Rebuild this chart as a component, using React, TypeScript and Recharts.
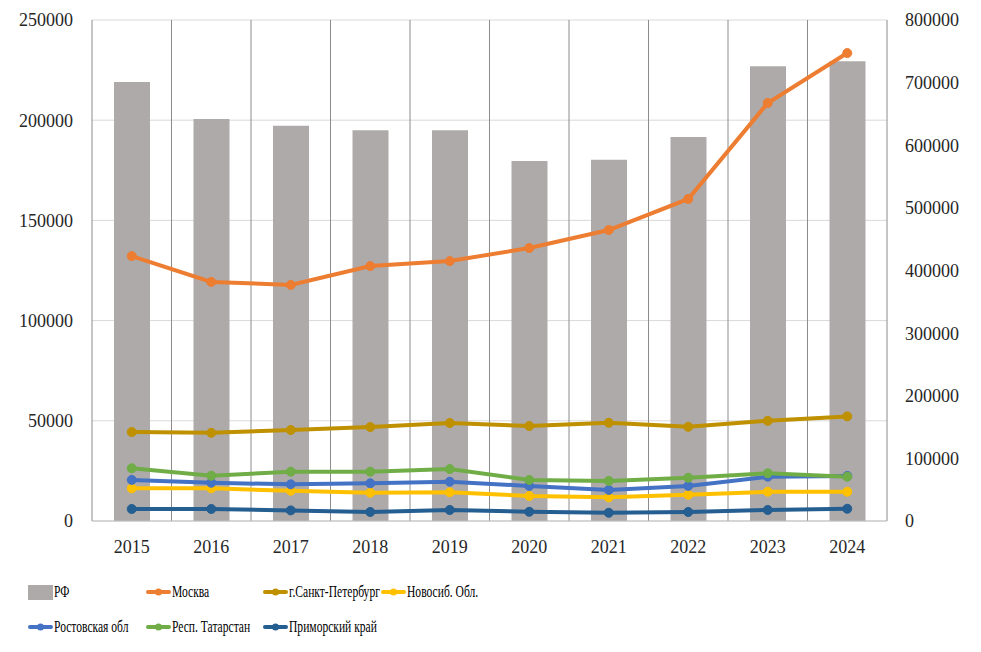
import {
  Bar,
  CartesianGrid,
  ComposedChart,
  Line,
  XAxis,
  YAxis,
} from 'recharts';

const years = ['2015', '2016', '2017', '2018', '2019', '2020', '2021', '2022', '2023', '2024'];

const rf = [701000, 642000, 631000, 624000, 624000, 575000, 577000, 613000, 726000, 734000];
const moscow = [132200, 119300, 117800, 127200, 129700, 136200, 145200, 160700, 208600, 233500];
const spb = [44400, 44000, 45400, 46900, 48900, 47400, 49000, 47000, 50000, 52200];
const novosib = [16300, 16300, 15100, 14100, 14300, 12500, 11800, 13100, 14600, 14600];
const rostov = [20500, 19100, 18300, 18800, 19600, 17500, 15500, 17500, 22100, 22500];
const tatarstan = [26300, 22600, 24600, 24600, 25900, 20500, 20000, 21600, 23800, 22100];
const primorsky = [6000, 6000, 5300, 4500, 5500, 4600, 4100, 4500, 5500, 6100];

const leftTicks = [0, 50000, 100000, 150000, 200000, 250000];
const rightTicks = [0, 100000, 200000, 300000, 400000, 500000, 600000, 700000, 800000];

const series = [
  { key: 'moscow', name: 'Москва', color: '#ed7d31' },
  { key: 'spb', name: 'г.Санкт-Петербург', color: '#bf9000' },
  { key: 'novosib', name: 'Новосиб. Обл.', color: '#ffc000' },
  { key: 'rostov', name: 'Ростовская обл', color: '#4472c4' },
  { key: 'tatarstan', name: 'Респ. Татарстан', color: '#70ad47' },
  { key: 'primorsky', name: 'Приморский край', color: '#255e91' },
];

const data = years.map((y, i) => ({
  year: y,
  rf: rf[i],
  moscow: moscow[i],
  spb: spb[i],
  novosib: novosib[i],
  rostov: rostov[i],
  tatarstan: tatarstan[i],
  primorsky: primorsky[i],
}));

const font = "'Liberation Serif', 'Liberation Sans', Arial, sans-serif";
const tickStyle = { fontSize: 18, fill: '#262626', fontFamily: font };

function LineIcon({ color }: { color: string }) {
  return (
    <svg width={25} height={14} style={{ display: 'block', flexShrink: 0 }}>
      <line x1={2} y1={7} x2={23} y2={7} stroke={color} strokeWidth={4} strokeLinecap="round" />
      <circle cx={12.5} cy={7} r={3.5} fill={color} />
    </svg>
  );
}

function ChartLegend() {
  const items = [{ key: 'rf', name: 'РФ', color: '#aeaaaa' }, ...series];
  return (
    <div style={{ fontFamily: font, fontSize: 17, color: '#000' }}>
      {items.map((it, i) => (
        <div
          key={it.key}
          style={{
            position: 'absolute',
            left: 28 + (i % 4) * 117.5,
            top: i < 4 ? 581 : 616,
            display: 'flex',
            alignItems: 'center',
            height: 22,
            whiteSpace: 'nowrap',
          }}
        >
          {it.key === 'rf' ? (
            <div style={{ width: 25, height: 15, background: it.color, flexShrink: 0 }} />
          ) : (
            <LineIcon color={it.color} />
          )}
          <span
            style={{
              marginLeft: 1,
              display: 'inline-block',
              transform: 'scaleX(0.68)',
              transformOrigin: 'left center',
            }}
          >
            {it.name}
          </span>
        </div>
      ))}
    </div>
  );
}

export default function App() {
  return (
    <div style={{ position: 'absolute', left: 0, top: 0, width: 981, height: 652, background: '#fff' }}>
      <ComposedChart
        width={981}
        height={560}
        data={data}
        margin={{ top: 20, right: 0, bottom: 0, left: 0 }}
      >
        <CartesianGrid
          yAxisId="left"
          vertical={false}
          stroke="#d9d9d9"
          strokeWidth={1}
        />
        <CartesianGrid
          yAxisId="left"
          horizontal={false}
          stroke="#8c8c8c"
          strokeWidth={1}
          verticalCoordinatesGenerator={({ offset }: any) =>
            years.concat(['']).map((_, i) => offset.left + (i * offset.width) / years.length)
          }
        />
        <XAxis
          dataKey="year"
          tick={tickStyle}
          tickLine={false}
          axisLine={{ stroke: '#bfbfbf' }}
          tickMargin={13}
          height={39}
        />
        <YAxis
          yAxisId="left"
          domain={[0, 250000]}
          ticks={leftTicks}
          tick={tickStyle}
          tickLine={false}
          axisLine={false}
          tickMargin={13}
          width={92}
          interval={0}
        />
        <YAxis
          yAxisId="right"
          orientation="right"
          domain={[0, 800000]}
          ticks={rightTicks}
          tick={{ ...tickStyle, textAnchor: 'start' }}
          tickLine={false}
          axisLine={false}
          tickMargin={12}
          width={94}
          interval={0}
        />
        <Bar
          yAxisId="right"
          dataKey="rf"
          name="РФ"
          fill="#aeaaaa"
          barSize={36}
          isAnimationActive={false}
        />
        {series.map((s) => (
          <Line
            key={s.key}
            yAxisId="left"
            type="linear"
            dataKey={s.key}
            name={s.name}
            stroke={s.color}
            strokeWidth={4}
            dot={{ r: 4.5, fill: s.color, stroke: s.color, strokeWidth: 1 }}
            isAnimationActive={false}
          />
        ))}
      </ComposedChart>
      <ChartLegend />
    </div>
  );
}
